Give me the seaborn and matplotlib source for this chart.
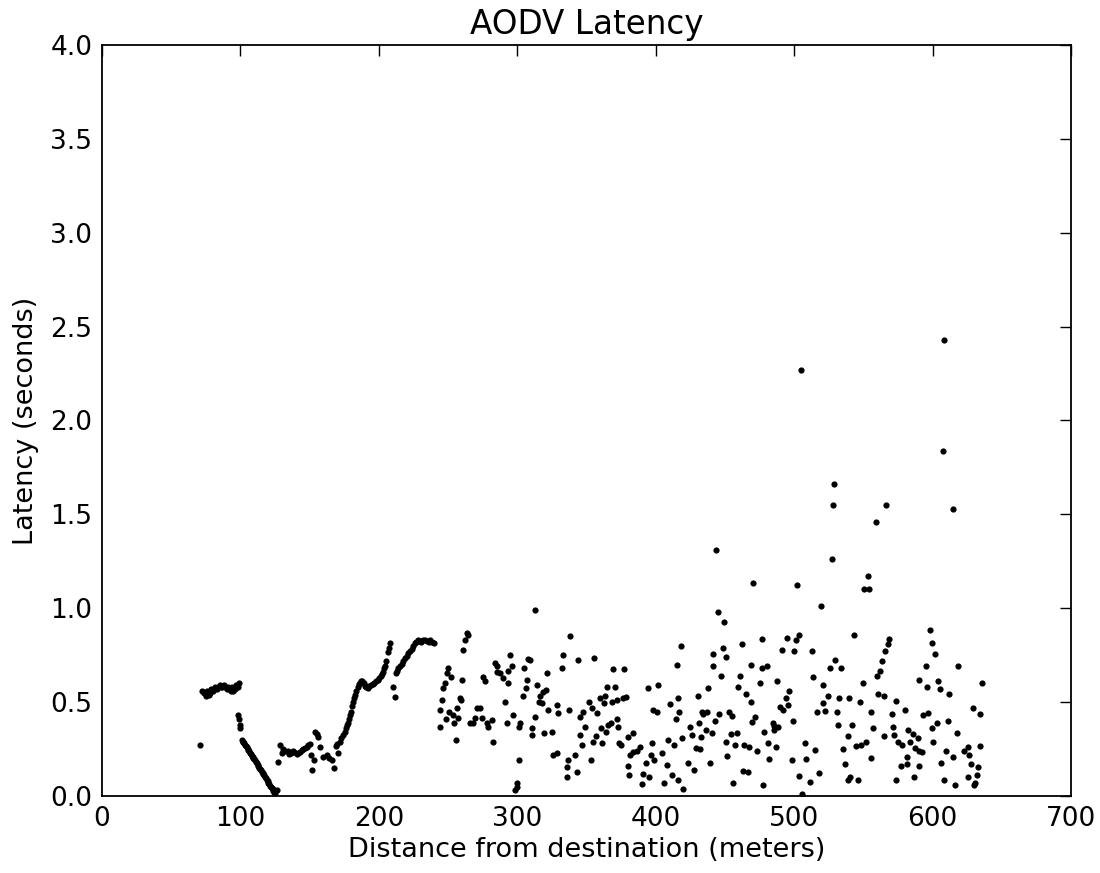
import matplotlib
matplotlib.use("Agg")
import matplotlib.pyplot as plt
import seaborn as sns
import pandas as pd

# Plateau at short range (70-100 m)
near_x = [70.5, 72.5, 74, 75, 76, 77, 78, 79, 80, 81, 82, 83, 84, 85, 86, 87,
          88, 89, 90, 91, 92, 93, 94, 95, 96, 97, 98, 99]
near_y = [0.27, 0.56, 0.55, 0.53, 0.56, 0.54, 0.55, 0.57, 0.56, 0.57, 0.58, 0.57,
          0.58, 0.59, 0.58, 0.58, 0.59, 0.58, 0.57, 0.58, 0.57, 0.56, 0.58, 0.56,
          0.57, 0.59, 0.58, 0.60]

# Steady drop between 98 and 125 m
drop_x = [98.5, 99, 99.5, 100, 101, 101.6, 102.2, 102.8, 103.4, 104, 104.6, 105.2,
          105.8, 106.4, 107, 107.6, 108.2, 108.8, 109.4, 110, 110.6, 111.2, 111.8,
          112.4, 113, 113.6, 114.2, 114.8, 115.4, 116, 116.6, 117.2, 117.8, 118.4,
          119, 119.6, 120.2, 120.8, 121.4, 122, 122.6, 123.2, 123.8, 124.4, 125]
drop_y = [0.43, 0.41, 0.38, 0.36, 0.30, 0.29, 0.285, 0.28, 0.27, 0.265, 0.26, 0.25,
          0.245, 0.24, 0.23, 0.225, 0.215, 0.21, 0.20, 0.195, 0.19, 0.18, 0.175,
          0.165, 0.16, 0.15, 0.145, 0.14, 0.13, 0.125, 0.115, 0.11, 0.10, 0.095,
          0.085, 0.08, 0.07, 0.065, 0.055, 0.05, 0.04, 0.035, 0.025, 0.02, 0.015]

# Low band between 126 and 171 m
low_x = [126.2, 127.4, 128.6, 130.3, 131, 132.5, 134.1, 135.3, 136.5, 137.7,
         138.9, 140.6, 141.8, 143, 144.2, 145.4, 146.6, 147.8, 149, 150.3,
         151.5, 153.4, 153.9, 155, 156.3, 157.5, 159.9, 162.3, 164, 165.9,
         167.8, 170.7, 151]
low_y = [0.03, 0.18, 0.27, 0.23, 0.25, 0.24, 0.24, 0.225, 0.23, 0.24,
         0.235, 0.225, 0.23, 0.235, 0.245, 0.25, 0.255, 0.26, 0.27, 0.275,
         0.14, 0.19, 0.34, 0.33, 0.315, 0.26, 0.21, 0.22, 0.20, 0.19,
         0.15, 0.23, 0.22]

# Climb from 168 m up to the 0.83 s plateau at 240 m
climb_x = [168.8, 170, 171.9, 173, 174.3, 175.5, 176, 177, 177.9, 178.6,
           179.2, 180, 180.8, 181.5, 182.2, 182.8, 183.8, 184.7, 185.5, 186.4,
           187.2, 188, 189, 190, 191, 191.9, 193, 194.3, 195.5, 196.7,
           198, 199.2, 200.3, 201.5, 202.4, 203.2, 204, 204.4, 205.5, 206.4,
           207.2, 208, 210.4, 211.7, 212.2, 213, 214, 215.2, 216.5, 217.7,
           218.9, 220, 221.3, 222.5, 223.7, 224.9, 226.1, 227, 228.2, 229.5,
           230.8, 232, 233.3, 234.6, 235.9, 237.2, 238.5, 239.8]
climb_y = [0.265, 0.275, 0.29, 0.31, 0.325, 0.34, 0.36, 0.38, 0.39, 0.41,
           0.43, 0.45, 0.48, 0.50, 0.52, 0.54, 0.56, 0.58, 0.595, 0.60,
           0.61, 0.61, 0.60, 0.585, 0.58, 0.575, 0.585, 0.59, 0.595, 0.60,
           0.61, 0.62, 0.63, 0.64, 0.65, 0.66, 0.68, 0.69, 0.72, 0.765,
           0.79, 0.815, 0.58, 0.525, 0.655, 0.665, 0.68, 0.69, 0.705, 0.72,
           0.735, 0.745, 0.76, 0.77, 0.785, 0.80, 0.815, 0.82, 0.83, 0.825,
           0.82, 0.83, 0.83, 0.825, 0.82, 0.83, 0.82, 0.815]

# Scattered readings, 240-325 m
mid_a_x = [263.7, 264.4, 262.2, 260.8, 250.0, 249.2, 252.0, 260.0, 247.8, 246.3,
           245.6, 258.6, 259.3, 256.4, 244.0, 250.7, 253.6, 248.5, 257.0, 254.3,
           244.0, 255.7, 270.9, 273.0, 269.5, 265.8, 268.0, 274.5, 278.0, 281.7,
           278.8, 282.5, 275.2, 276.7, 283.9, 285.3, 285.3, 287.5, 289.7, 293.3,
           294.7, 296.2, 293.3, 291.1, 292.6, 296.9, 302.0, 301.2, 301.2, 299.8,
           299.8, 298.3, 307.7, 309.2, 304.9, 307.0, 306.3, 304.1, 314.2, 316.4,
           318.6, 320.7, 315.7, 317.9, 321.5, 312.8, 310.6, 310.6, 319.3, 322.2,
           313.0]
mid_a_y = [0.87, 0.86, 0.83, 0.78, 0.68, 0.655, 0.635, 0.62, 0.60, 0.575,
           0.51, 0.52, 0.51, 0.47, 0.46, 0.45, 0.43, 0.41, 0.415, 0.39,
           0.37, 0.30, 0.47, 0.47, 0.415, 0.39, 0.39, 0.415, 0.39, 0.405,
           0.37, 0.29, 0.635, 0.61, 0.71, 0.69, 0.66, 0.655, 0.63, 0.60,
           0.75, 0.69, 0.665, 0.50, 0.39, 0.43, 0.39, 0.37, 0.19, 0.07,
           0.05, 0.03, 0.73, 0.725, 0.68, 0.62, 0.575, 0.53, 0.59, 0.53,
           0.555, 0.565, 0.50, 0.495, 0.655, 0.42, 0.36, 0.325, 0.335, 0.46,
           0.99]

# Scattered readings, 325-435 m
mid_b_x = [338, 333, 332.3, 328.7, 329.4, 337.4, 325, 325.8, 328.7, 336.6,
           335.9, 335.9,
           343.9, 355.4, 369, 377, 364.8, 370.6, 359.7, 363.4, 351.8, 362.6,
           368.4, 372, 376.4, 378.5, 347.5, 345.3, 354, 357.6, 349, 345.3,
           346.7, 354.7, 356.9, 360.5, 364, 361.2, 365.5, 367.7, 372, 372.8,
           373.5, 374.9, 380, 383.6, 341.7, 343, 353.2, 381.4, 383.6, 386.5,
           388.7, 380, 380.7, 390.8, 393, 390, 395, 397.3, 396.6, 398.8,
           404.5, 408, 406, 394.4, 401.6, 398, 401, 408.9, 413.2, 410.3,
           416, 416.8, 414.7, 415.4, 418.3, 411.8, 416, 419.7, 423.3, 427.6,
           419, 424.8, 426.2, 430.5, 431.3, 432.7, 432, 429, 433.4]
mid_b_y = [0.85, 0.75, 0.68, 0.485, 0.44, 0.46, 0.34, 0.22, 0.23, 0.19,
           0.155, 0.10,
           0.725, 0.735, 0.675, 0.675, 0.58, 0.58, 0.52, 0.53, 0.50, 0.495,
           0.50, 0.51, 0.52, 0.525, 0.45, 0.42, 0.47, 0.44, 0.37, 0.325,
           0.27, 0.29, 0.32, 0.36, 0.34, 0.28, 0.38, 0.39, 0.41, 0.37,
           0.28, 0.27, 0.315, 0.335, 0.22, 0.13, 0.19, 0.22, 0.235, 0.24,
           0.26, 0.16, 0.11, 0.115, 0.175, 0.065, 0.10, 0.28, 0.22, 0.19,
           0.23, 0.165, 0.07, 0.575, 0.59, 0.46, 0.45, 0.30, 0.27, 0.49,
           0.52, 0.45, 0.41, 0.70, 0.80, 0.11, 0.085, 0.035, 0.175, 0.14,
           0.31, 0.37, 0.325, 0.53, 0.39, 0.315, 0.25, 0.255, 0.45]

# Scattered readings, 434-525 m
far_a_x = [470.3, 502, 519.4, 445, 449.3, 462.3, 476.8, 494.8, 501.3, 503.5,
           491.2, 499.9, 512.9, 448.6, 441.4, 450.8, 441.4, 447.2, 468.8, 476.8,
           480.4, 460.9, 513.6, 437.8, 459.4, 475.3, 487.6, 520.8, 465.2, 468.8,
           496.3, 493.9, 489.8, 492, 495.6, 437, 434.1, 445.7, 452.9, 455.1,
           442.8, 471.7, 469.6, 484.7, 485.4, 488.3, 499.2, 516.5, 520.8, 522.3,
           524.5, 436.3, 440.7, 450.8, 454.4, 458.7, 457.3, 463.8, 467.4, 473.2,
           478.2, 481.1, 486.9, 485.4, 507.8, 515, 439.2, 451.5, 481.8, 498.5,
           508.6, 463, 466.7, 503.5, 511.4, 518, 455.8, 477.5, 506, 443.5]
far_a_y = [1.135, 1.125, 1.01, 0.98, 0.925, 0.81, 0.835, 0.84, 0.83, 0.855,
           0.78, 0.77, 0.77, 0.79, 0.755, 0.74, 0.69, 0.64, 0.70, 0.68,
           0.69, 0.64, 0.635, 0.575, 0.58, 0.60, 0.61, 0.59, 0.545, 0.50,
           0.56, 0.52, 0.475, 0.46, 0.485, 0.45, 0.435, 0.435, 0.45, 0.425,
           0.40, 0.42, 0.395, 0.39, 0.375, 0.37, 0.40, 0.45, 0.495, 0.455,
           0.53, 0.35, 0.335, 0.29, 0.33, 0.335, 0.27, 0.27, 0.26, 0.24,
           0.34, 0.28, 0.26, 0.35, 0.28, 0.245, 0.175, 0.215, 0.195, 0.19,
           0.195, 0.135, 0.13, 0.105, 0.075, 0.12, 0.07, 0.06, 0.01, 1.31]

# Scattered readings, 525-640 m
far_b_x = [527.3, 553.4, 550.5, 554.1, 543.2, 598.1, 599.6, 601.8, 568.5, 567.8,
           565.6, 563.5, 562, 559.8, 529.5, 525.9, 533.8, 595.2, 618.4, 635.7,
           590.2, 603.9, 605.4, 596, 611.9, 549.7, 560.6, 564.9, 532.4, 539.6,
           547.6, 573.6, 531, 555.5, 570.7, 580, 593.1, 596.7, 629.2, 634.3,
           531.7, 541.8, 557, 571.4, 603.2, 611.1, 599.6, 582.2, 538.9, 564.9,
           572.1, 585.9, 589.5, 617.6, 575.2, 578, 583.7, 600.3, 551.9, 548.3,
           544.7, 634.3, 535.3, 587.3, 590.2, 592.4, 609.7, 622.7, 625.6, 626.3,
           555.5, 581.5, 614.7, 536.7, 577.2, 581.5, 590.2, 606.1, 627.8, 632.8,
           632.1, 625.6, 540.3, 538.9, 546.1, 573.6, 586.6, 608.3, 616.2, 630.6,
           629.9]
far_b_y = [1.26, 1.17, 1.10, 1.10, 0.86, 0.885, 0.815, 0.755, 0.835, 0.81,
           0.77, 0.72, 0.665, 0.64, 0.725, 0.68, 0.68, 0.69, 0.69, 0.60,
           0.62, 0.61, 0.57, 0.58, 0.545, 0.60, 0.545, 0.53, 0.52, 0.52,
           0.50, 0.505, 0.45, 0.45, 0.435, 0.46, 0.43, 0.44, 0.47, 0.435,
           0.38, 0.38, 0.36, 0.37, 0.39, 0.40, 0.36, 0.35, 0.32, 0.32,
           0.325, 0.33, 0.31, 0.335, 0.29, 0.27, 0.29, 0.29, 0.29, 0.27,
           0.265, 0.265, 0.25, 0.255, 0.24, 0.235, 0.24, 0.24, 0.26, 0.22,
           0.20, 0.21, 0.21, 0.17, 0.16, 0.17, 0.16, 0.175, 0.17, 0.155,
           0.11, 0.10, 0.10, 0.085, 0.085, 0.085, 0.10, 0.085, 0.06, 0.07,
           0.06]

# High-latency outliers
peak_x = [505, 608.3, 607.6, 614.5, 528.8, 528.1, 559, 566.4]
peak_y = [2.27, 2.43, 1.84, 1.53, 1.66, 1.55, 1.46, 1.55]

x_ticks = [0, 100, 200, 300, 400, 500, 600, 700]
y_ticks = [0.0, 0.5, 1.0, 1.5, 2.0, 2.5, 3.0, 3.5, 4.0]

segments = [(near_x, near_y), (drop_x, drop_y), (low_x, low_y), (climb_x, climb_y),
            (mid_a_x, mid_a_y), (mid_b_x, mid_b_y), (far_a_x, far_a_y),
            (far_b_x, far_b_y), (peak_x, peak_y)]
df = pd.concat([pd.DataFrame({"distance": sx, "latency": sy}) for sx, sy in segments],
               ignore_index=True)

sns.set_style("white")
plt.rcParams.update({
    "font.family": ["DejaVu Sans"],
    "text.color": "black",
    "axes.labelcolor": "black",
    "xtick.direction": "in",
    "ytick.direction": "in",
    "xtick.top": True,
    "ytick.right": True,
    "xtick.major.size": 8,
    "ytick.major.size": 8,
    "xtick.major.width": 1.0,
    "ytick.major.width": 1.0,
    "xtick.color": "black",
    "ytick.color": "black",
    "xtick.labelcolor": "black",
    "ytick.labelcolor": "black",
})

fig = plt.figure(figsize=(11, 8.73), dpi=100)
ax = fig.add_axes([0.0927, 0.0882, 0.8809, 0.8603])

sns.scatterplot(data=df, x="distance", y="latency", ax=ax, color="black",
                s=20, linewidth=0, marker="o")

ax.set_xlim(0, 700)
ax.set_ylim(0, 4.0)
ax.set_xticks(x_ticks)
ax.set_yticks(y_ticks)
ax.set_xticklabels([str(v) for v in x_ticks])
ax.set_yticklabels([f"{v:.1f}" for v in y_ticks])
ax.tick_params(labelsize=19, pad=7)
for spine in ax.spines.values():
    spine.set_color("black")
    spine.set_linewidth(1.3)

ax.set_title("AODV Latency", fontsize=23.5, pad=8, color="black")
ax.set_xlabel("Distance from destination (meters)", fontsize=19.5, labelpad=4)
ax.set_ylabel("Latency (seconds)", fontsize=19.5, labelpad=8)

fig.savefig("out.png", dpi=100, facecolor="white")
